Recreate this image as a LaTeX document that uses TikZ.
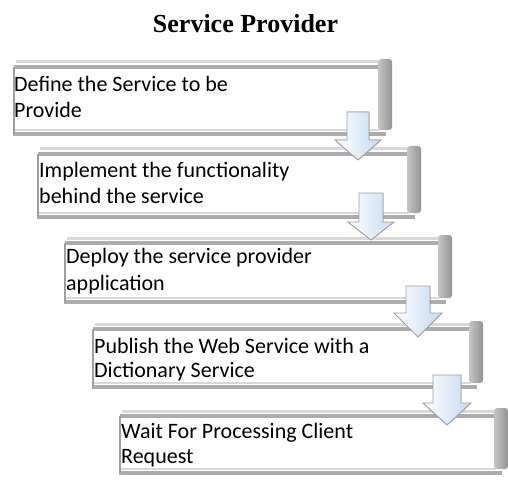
\documentclass[tikz,border=0pt]{standalone}
\usepackage{fontspec}
\setmainfont{Liberation Serif}
\newfontfamily\boxfont{Carlito}
\definecolor{arrowblue}{RGB}{196,218,240}
\tikzset{
  titletext/.style={font=\bfseries\fontsize{26}{30}\selectfont, anchor=base, inner sep=0pt},
  steptext/.style={font=\boxfont\fontsize{22}{26}\selectfont, anchor=base west, inner sep=0pt, text=black},
  boxbody/.style={fill=white, draw=none},
  topfaint/.style={line width=3pt, draw=gray!30},
  topband/.style={line width=3.5pt, draw=gray!65},
  botband/.style={line width=3.5pt, draw=gray!65},
  botfaint/.style={line width=2pt, draw=gray!30},
  leftedge/.style={line width=1.5pt, draw=gray!75},
  rightbar/.style={left color=gray!45, right color=gray!85, rounded corners=3pt},
  blockarrow/.style={left color=white, right color=arrowblue, draw=gray!75, line width=0.9pt, line join=miter}
}
\newcommand\drawstep[5]{% name, L, R, T, B
  \path[boxbody] (#2,#4) rectangle (#3-12,#5);
  \node[inner sep=0pt, minimum width={(#3-#2)*1pt}, minimum height={(#5-#4)*1pt}, anchor=north west] (#1) at (#2,#4) {};
  \draw[topfaint] (#2+2,#4-5) -- (#3-14,#4-5);
  \draw[topband] (#2,#4) -- (#3-12,#4);
  \draw[botfaint] (#2,#5-4) -- (#3-12,#5-4);
  \draw[botband] (#2-1,#5) -- (#3-6,#5);
  \draw[leftedge] (#2,#4) -- (#2,#5);
  \path[rightbar] (#3-14,#4-8) rectangle (#3,#5-4);
}
\newcommand\drawarrow[6]{% cx, top, shoulder, tip, shaft half, head half
  \filldraw[blockarrow] (#1-#5,#2) -- (#1+#5,#2) -- (#1+#5,#3) -- (#1+#6,#3) -- (#1,#4) -- (#1-#6,#3) -- (#1-#5,#3) -- cycle;
}
\begin{document}
\begin{tikzpicture}[x=1pt,y=-1pt]
\useasboundingbox[fill=white] (0,0) rectangle (508,481);
\node[titletext] (title) at (245.5,33) {Service Provider};

\drawstep{b1}{14}{392}{67}{134}
\drawstep{b2}{38}{421}{154}{217}
\drawstep{b3}{65}{452}{243}{302}
\drawstep{b4}{93}{483}{329}{387}
\drawstep{b5}{120}{508}{416}{473}

\node[steptext] (t1a) at (14,92) {Define the Service to be};
\node[steptext] (t1b) at (14,118) {Provide};
\node[steptext] (t2a) at (39,177) {Implement the functionality};
\node[steptext] (t2b) at (39,203) {behind the service};
\node[steptext] (t3a) at (66,263) {Deploy the service provider};
\node[steptext] (t3b) at (66,290) {application};
\node[steptext] (t4a) at (94,353) {Publish the Web Service with a};
\node[steptext] (t4b) at (94,377) {Dictionary Service};
\node[steptext] (t5a) at (121,438) {Wait For Processing Client};
\node[steptext] (t5b) at (121,463) {Request};

\drawarrow{358}{112}{140}{160}{11}{23}
\drawarrow{371}{193}{222}{240}{12}{23}
\drawarrow{418}{286}{313}{337}{12}{24}
\drawarrow{447}{375}{403}{425}{14}{24}
\end{tikzpicture}
\end{document}
